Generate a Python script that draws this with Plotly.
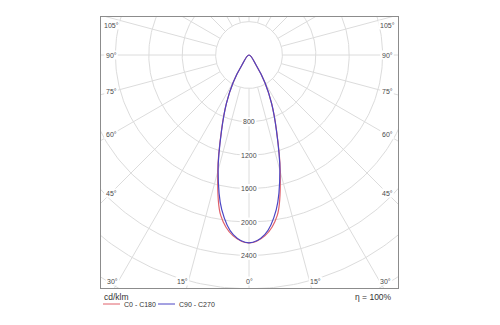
import numpy as np
import plotly.graph_objects as go

# Luminous intensity (cd/klm) per gamma angle, 5 degree steps
gamma = [0, 5, 10, 15, 20, 25, 30, 35, 40, 45, 50, 55, 60, 65, 70, 75, 80, 85, 90]
i_c0_c180 = [2250, 2175, 1950, 1445, 965, 640, 380, 150, 0, 0, 0, 0, 0, 0, 0, 0, 0, 0, 0]
i_c90_c270 = [2250, 2160, 1880, 1430, 960, 640, 380, 150, 0, 0, 0, 0, 0, 0, 0, 0, 0, 0, 0]

ring_values = [400, 800, 1200, 1600, 2000, 2400, 2800, 3200]
ring_labels = ["800", "1200", "1600", "2000", "2400"]
spoke_step = 15
angle_labels = [0, 15, 30, 45, 60, 75, 90, 105]
unit_label = "cd/klm"
efficiency_label = "η = 100%"
series_names = ["C0 - C180", "C90 - C270"]
series_colors = ["#e0606a", "#4b45c4"]

# layout geometry (pixels)
W, H = 500, 325
L, R, T, B = 101, 398, 17, 288
CX, CY = 249, 55
K = 33.4 / 400.0  # pixels per cd/klm

x_range = [(L - CX) / K, (R - CX) / K]
y_range = [(CY - B) / K, (CY - T) / K]

grid_color = "#dcdcdc"
text_color = "#4a4a4a"
font_family = "Liberation Sans, Arial, sans-serif"
LABEL_SIZE = 7
SOFT = "0px 0px 1px rgba(255,255,255,0.02)"


def curve_xy(values):
    """Polar curve through both half-planes; angle 0 points downwards."""
    g = np.array(gamma, dtype=float)
    v = np.array(values, dtype=float)
    stop = int(np.argmax(v == 0)) + 1 if (v == 0).any() else len(v)
    g, v = g[:stop], v[:stop]
    ang = np.concatenate([-g[::-1], g[1:]])
    val = np.concatenate([v[::-1], v[1:]])
    t = np.radians(ang)
    return val * np.sin(t), -val * np.cos(t)


def text_width_px(s, size):
    w = 0.0
    for ch in s:
        w += 0.4 if ch == "°" else 0.556
    return w * size


fig = go.Figure()

# concentric rings
phi = np.radians(np.linspace(0, 360, 361))
gx, gy = [], []
for r in ring_values:
    gx += list(r * np.sin(phi)) + [None]
    gy += list(r * np.cos(phi)) + [None]
# radial spokes starting at the first ring
for a in range(0, 360, spoke_step):
    t = np.radians(a)
    r0, r1 = ring_values[0], 4000
    gx += [r0 * np.sin(t), r1 * np.sin(t), None]
    gy += [-r0 * np.cos(t), -r1 * np.cos(t), None]
fig.add_trace(go.Scatter(x=gx, y=gy, mode="lines",
                         line=dict(color=grid_color, width=1),
                         hoverinfo="skip", showlegend=False))

for name, vals, col in zip(series_names, [i_c0_c180, i_c90_c270], series_colors):
    x, y = curve_xy(vals)
    fig.add_trace(go.Scatter(x=x, y=y, mode="lines", name=name,
                             line=dict(color=col, width=1.2, shape="spline"),
                             showlegend=False))

annotations = []
shapes = []


def add_grid_label(x, y, text):
    # white patch behind the label so grid lines do not run through it
    hw = (text_width_px(text, LABEL_SIZE) / 2 + 1.5) / K
    hh = 4.5 / K
    shapes.append(dict(type="rect", xref="x", yref="y", layer="above",
                       x0=x - hw, x1=x + hw, y0=y - hh, y1=y + hh,
                       fillcolor="white", line=dict(width=0)))
    annotations.append(dict(x=x, y=y, xref="x", yref="y", text=text,
                            showarrow=False,
                            font=dict(size=LABEL_SIZE, color=text_color,
                                      family=font_family, shadow=SOFT),
                            xanchor="center", yanchor="middle"))


# ring value labels on the 0 degree spoke
for lab in ring_labels:
    add_grid_label(0.0, -float(lab), lab)

# angle labels where the spokes meet an inset frame
side_px, bottom_px, top_px = 138, 226, 30
for a in angle_labels:
    t = np.radians(a)
    s, c = np.sin(t), np.cos(t)
    cand = []
    if s > 1e-9:
        cand.append(side_px / K / s)
    if c > 1e-9:
        cand.append(bottom_px / K / c)
    tt = min(cand)
    px = tt * s
    py = -tt * c
    py = min(py, top_px / K)
    on_bottom = c > 1e-9 and abs(py + bottom_px / K) < 1e-6
    for sign in ([1, -1] if a != 0 else [1]):
        xx = sign * px
        if on_bottom and a != 0:
            xx = sign * min(px + 6 / K, side_px / K)
        add_grid_label(xx, py, f"{a}°")


def px_to_paper(px, py):
    return (px - L) / (R - L), (B - py) / (B - T)


ux, uy = px_to_paper(102, 297)
annotations.append(dict(x=ux, y=uy, xref="paper", yref="paper", text=unit_label,
                        showarrow=False, xanchor="left", yanchor="middle",
                        font=dict(size=8.5, color="#333333", family=font_family, shadow=SOFT)))
ex, ey = px_to_paper(394, 297)
annotations.append(dict(x=ex, y=ey, xref="paper", yref="paper", text=efficiency_label,
                        showarrow=False, xanchor="right", yanchor="middle",
                        font=dict(size=8.5, color="#333333", family=font_family, shadow=SOFT)))

legend_x = [103, 158]
for lx, name, col in zip(legend_x, series_names, series_colors):
    x0, y0 = px_to_paper(lx, 304)
    x1, _ = px_to_paper(lx + 17, 304)
    shapes.append(dict(type="line", xref="paper", yref="paper",
                       x0=x0, x1=x1, y0=y0, y1=y0,
                       line=dict(color=col, width=1)))
    tx, _ = px_to_paper(lx + 19, 304)
    annotations.append(dict(x=tx, y=y0, xref="paper", yref="paper", text=name,
                            showarrow=False, xanchor="left", yanchor="middle",
                            font=dict(size=7, color="#333333", family=font_family, shadow=SOFT)))

axis_common = dict(showgrid=False, zeroline=False, showticklabels=False, ticks="",
                   showline=True, mirror=True, linecolor="#8c8c8c", linewidth=1,
                   fixedrange=True)
fig.update_layout(
    width=W, height=H,
    margin=dict(l=L, r=W - R, t=T, b=H - B),
    paper_bgcolor="white", plot_bgcolor="white",
    xaxis=dict(range=x_range, **axis_common),
    yaxis=dict(range=y_range, **axis_common),
    annotations=annotations, shapes=shapes,
    showlegend=False,
)

fig.write_html("out.html")
